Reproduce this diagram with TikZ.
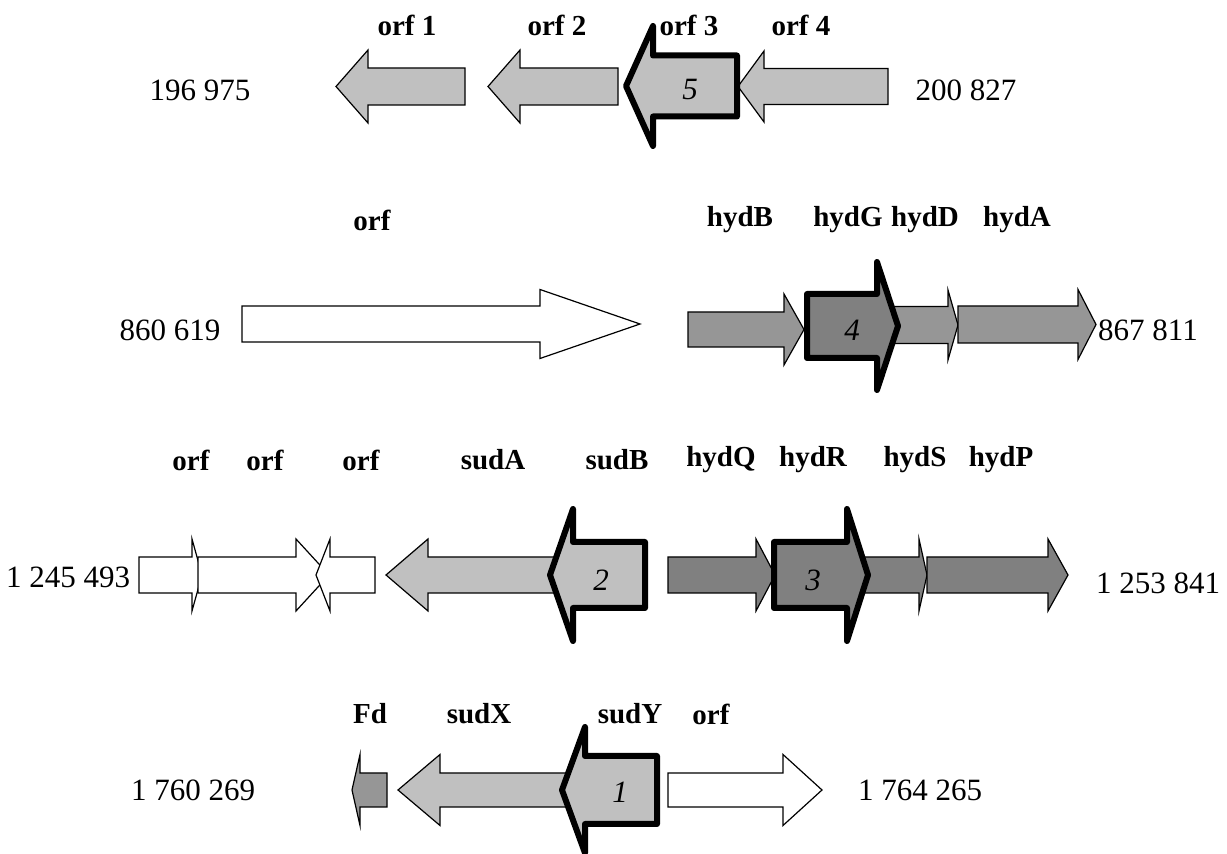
\documentclass[tikz,border=0pt]{standalone}
\usepackage{fontspec}
\setmainfont{Liberation Serif}
\usepackage{tikz}
\usetikzlibrary{calc}
\definecolor{lgray}{HTML}{C0C0C0}
\definecolor{mgray}{HTML}{969696}
\definecolor{dgray}{HTML}{808080}
\tikzstyle{gene}  = [
    draw=black,
    line width=0.6pt,
    line join=miter
]
\tikzstyle{hit}   = [
    draw=black,
    line width=3pt,
    line join=round
]
\tikzstyle{gname} = [inner sep=0pt, font=\fontsize{14.5}{17}\selectfont\bfseries]
\tikzstyle{coord} = [inner sep=0pt, font=\fontsize{15.5}{18}\selectfont]
\tikzstyle{num}   = [inner sep=0pt, font=\fontsize{15.5}{18}\selectfont\itshape]
% #2 tail, #3 back of head, #4 tip, #5 centre line, #6 half shaft, #7 half head
\newcommand{\gene}[7][]{%
\draw[gene,#1] (#2,#5-#6) -- (#3,#5-#6) -- (#3,#5-#7) -- (#4,#5)
    -- (#3,#5+#7) -- (#3,#5+#6) -- (#2,#5+#6) -- cycle;}
\begin{document}
\begin{tikzpicture}[x=0.5pt, y=-0.5pt]
\useasboundingbox (0,0) rectangle (1227,854);

% row 1
\gene[fill=lgray]{465}{368}{336}{86.5}{18.5}{36.5}
\gene[fill=lgray]{618}{520}{488}{86.5}{18.5}{36.5}
\gene[fill=lgray]{888}{764}{738}{86.5}{18}{35.5}
\gene[hit,fill=lgray]{737}{653}{626}{86}{30.5}{60}

\node[gname] (orf1)  at (407,25)  {orf 1};
\node[gname] (orf2)  at (557,25)  {orf 2};
\node[gname] (orf3)  at (689,25)  {orf 3};
\node[gname] (orf4)  at (801,25)  {orf 4};
\node[num]   (n5)    at (690,90)  {5};
\node[coord] (s1)    at (200,90)  {196 975};
\node[coord] (e1)    at (966,90)  {200 827};

% row 2
\gene[fill=white]{242}{540}{640}{324}{18}{34.5}
\gene[fill=mgray]{688}{784}{804}{329.5}{17.5}{35.5}
\gene[fill=mgray]{885}{948}{958}{325}{18.5}{35}
\gene[fill=mgray]{958}{1078}{1096}{324.5}{18.5}{35}
\gene[hit,fill=dgray]{807}{877}{898}{326}{32}{64}

\node[gname] (orfB)  at (372,220) {orf};
\node[gname] (hydB)  at (740,220) {hydB};
\node[gname] (hydG)  at (848,220) {hydG};
\node[gname] (hydD)  at (925,220) {hydD};
\node[gname] (hydA)  at (1017,220) {hydA};
\node[num]   (n4)    at (852,330) {4};
\node[coord] (s2)    at (170,330) {860 619};
\node[coord] (e2)    at (1148,330) {867 811};

% row 3
\gene[fill=white]{139}{192}{202}{575}{18}{36}
\gene[fill=white]{198}{296}{329}{575}{18}{36}
\gene[fill=white]{375}{330}{316}{575}{18}{36}
\gene[fill=lgray]{560}{428}{386}{575}{18}{36}
\gene[hit,fill=lgray]{645}{573}{550}{575}{33}{66}
\gene[fill=dgray]{668}{756}{775}{575}{18}{36}
\gene[fill=dgray]{860}{919}{927}{575}{18}{36}
\gene[fill=dgray]{927}{1048}{1068}{575}{18}{36}
\gene[hit,fill=dgray]{774}{847}{868}{575}{33}{66}

\node[gname] (orfC)  at (191,460) {orf};
\node[gname] (orfD)  at (265,460) {orf};
\node[gname] (orfE)  at (361,460) {orf};
\node[gname] (sudA)  at (493,460) {sudA};
\node[gname] (sudB)  at (617,460) {sudB};
\node[gname] (hydQ)  at (721,460) {hydQ};
\node[gname] (hydR)  at (813,460) {hydR};
\node[gname] (hydS)  at (915,460) {hydS};
\node[gname] (hydP)  at (1001,460) {hydP};
\node[num]   (n2)    at (601,580) {2};
\node[num]   (n3)    at (813,580) {3};
\node[coord] (s3)    at (68,577)  {1 245 493};
\node[coord] (e3)    at (1158,583) {1 253 841};

% row 4
\gene[fill=mgray]{387}{360}{352}{790}{17}{35.5}
\gene[fill=lgray]{570}{440}{398}{790}{17}{35.5}
\gene[fill=white]{668}{783}{822}{790}{17}{35.5}
\gene[hit,fill=lgray]{657}{585}{562}{790}{34}{63}

\node[gname] (fd)    at (370,714) {Fd};
\node[gname] (sudX)  at (479,714) {sudX};
\node[gname] (sudY)  at (630,714) {sudY};
\node[gname] (orfF)  at (711,714) {orf};
\node[num]   (n1)    at (620,792) {1};
\node[coord] (s4)    at (193,790) {1 760 269};
\node[coord] (e4)    at (920,790) {1 764 265};
\end{tikzpicture}
\end{document}
